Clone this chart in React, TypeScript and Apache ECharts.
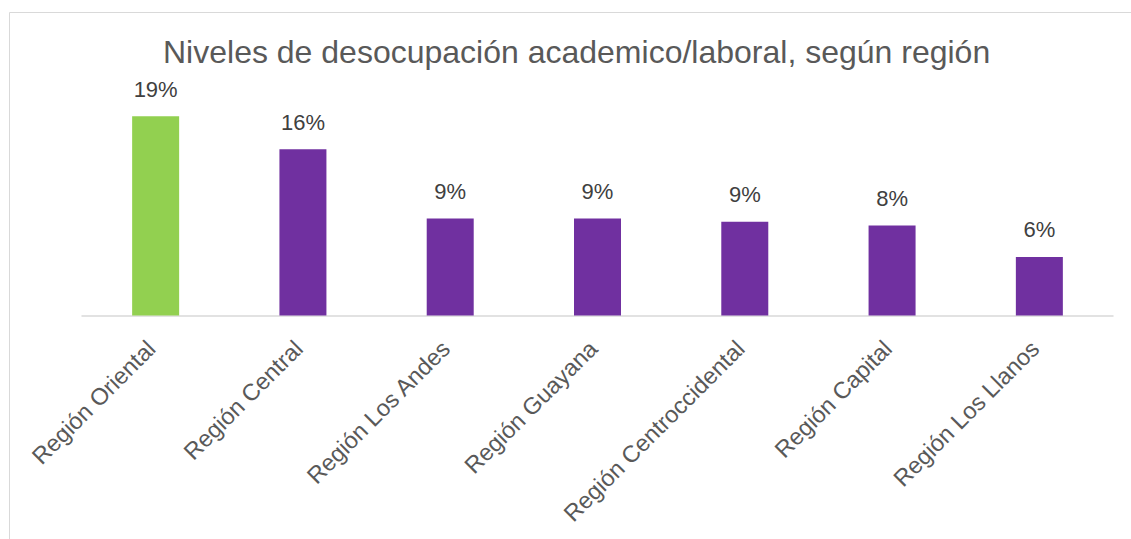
import React, { useEffect, useRef } from "react";
import * as echarts from "echarts";

const categories = [
  "Región Oriental",
  "Región Central",
  "Región Los Andes",
  "Región Guayana",
  "Región Centroccidental",
  "Región Capital",
  "Región Los Llanos",
];
const values = [18.7, 15.6, 9.1, 9.1, 8.8, 8.45, 5.5];
const barColors = ["#92D050", "#7030A0", "#7030A0", "#7030A0", "#7030A0", "#7030A0", "#7030A0"];
const titleText = "Niveles de desocupación academico/laboral, según región";

export default function App() {
  const ref = useRef<HTMLDivElement>(null);
  useEffect(() => {
    document.body.style.margin = "0";
    if (!ref.current) return;
    const chart = echarts.init(ref.current, undefined, { renderer: "svg" });
    const font = "Arial, 'Liberation Sans', sans-serif";
    chart.setOption({
      animation: false,
      backgroundColor: "#ffffff",
      title: {
        text: titleText,
        left: 163,
        top: 36,
        padding: 0,
        textStyle: { fontFamily: font, fontSize: 32, fontWeight: "normal", color: "#595959" },
      },
      graphic: [
        {
          type: "rect",
          shape: { x: 9.5, y: 12.5, width: 1200, height: 700 },
          style: { fill: "none", stroke: "#D9D9D9", lineWidth: 1 },
          silent: true,
          z: -1,
        },
      ],
      grid: { left: 82, right: 18, top: 102.5, bottom: 223.5, containLabel: false },
      xAxis: {
        type: "category",
        data: categories,
        axisLine: { show: true, lineStyle: { color: "#D9D9D9", width: 1.5 } },
        axisTick: { show: false },
        axisLabel: {
          rotate: 45,
          interval: 0,
          margin: 25,
          padding: [0, 6, 0, 0],
          fontFamily: font,
          fontSize: 23.5,
          color: "#595959",
        },
      },
      yAxis: {
        type: "value",
        min: 0,
        max: 20,
        show: false,
        splitLine: { show: false },
      },
      series: [
        {
          type: "bar",
          barWidth: 47,
          data: values.map((v, i) => ({ value: v, itemStyle: { color: barColors[i] } })),
          label: {
            show: true,
            position: "top",
            distance: 16,
            fontFamily: font,
            fontSize: 22,
            color: "#404040",
            formatter: (p: any) => Math.round(p.value) + "%",
          },
        },
      ],
    });
    return () => chart.dispose();
  }, []);
  return <div ref={ref} style={{ width: 1131, height: 539 }} />;
}
